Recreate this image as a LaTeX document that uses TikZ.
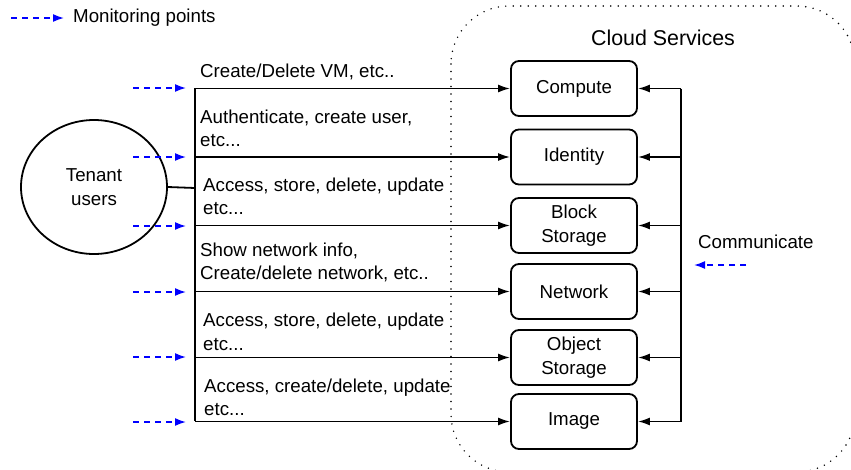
\documentclass[tikz,border=0pt]{standalone}
\usepackage{fontspec}
\setmainfont{Liberation Sans}
\usetikzlibrary{arrows.meta,shapes.geometric}
\begin{document}
\begin{tikzpicture}[x=1pt,y=-1pt,
  every node/.style={font=\fontsize{18.7}{23.5}\selectfont},
  svc/.style={draw,line width=1.8pt,rounded corners=8pt,minimum width=126pt,minimum height=55pt,align=center,inner sep=0pt},
  conn/.style={line width=1.8pt,-{Latex[length=12pt,width=8pt]}},
  mon/.style={blue,line width=1.6pt,dash pattern=on 6pt off 5pt,-{Latex[length=11pt,width=8pt]}},
  lbl/.style={anchor=west,align=left,inner sep=0pt}]
\useasboundingbox (0,0) rectangle (851,469);
\begin{scope}
\clip (0,0) rectangle (851,469);
\draw[line width=1.6pt,line cap=round,dash pattern=on 0pt off 7.5pt,rounded corners=58pt] (451,6) rectangle (855,472);
\end{scope}
% legend
\coordinate (lg1) at (11,18); \coordinate (lg2) at (64,18);
\draw[mon] (lg1) -- (lg2);
\node[anchor=west,inner sep=0pt] (lgt) at (73,18) {Monitoring points};
\node[font=\fontsize{21.4}{25}\selectfont] (cs) at (663,38) {Cloud Services};
% tenant
\node[draw,line width=1.8pt,ellipse,minimum width=146pt,minimum height=134pt,align=center,inner sep=0pt] (ten) at (94,187) {Tenant\\users};
\coordinate (bT) at (195,88); \coordinate (bB) at (195,421); \coordinate (bM) at (195,188);
\draw[line width=1.8pt] (ten.east) -- (bM);
\draw[line width=1.8pt] (bT) -- (bB);
% services
\node[svc] (comp) at (574,88.5) {Compute};
\node[svc] (ident) at (574,157) {Identity};
\node[svc] (block) at (574,225.5) {Block\\Storage};
\node[svc] (net) at (574,291.5) {Network};
\node[svc] (obj) at (574,357.5) {Object\\Storage};
\node[svc] (img) at (574,421.5) {Image};
\coordinate (rT) at (681,88.5); \coordinate (rB) at (681,421.5);
\draw[line width=1.8pt] (rT) -- (rB);
\foreach \n in {comp,ident,block,net,obj,img}{
  \draw[conn] (bT |- \n.west) -- (\n.west);
  \draw[conn] (rT |- \n.east) -- (\n.east);
}
% monitoring arrows
\foreach \n/\y in {m1/88,m2/157,m3/226,m4/292,m5/357,m6/422}{
  \coordinate (\n a) at (133,\y); \coordinate (\n b) at (186,\y);
  \draw[mon] (\n a) -- (\n b);
}
\coordinate (ca) at (746,265); \coordinate (cb) at (694,265);
\draw[mon] (ca) -- (cb);
\node[anchor=west,inner sep=0pt] (comm) at (698,242) {Communicate};
% labels
\node[lbl] (l1) at (200,72) {Create/Delete VM, etc..};
\node[lbl] (l2) at (200,128.5) {Authenticate, create user,\\etc...};
\node[lbl] (l3) at (203,196.5) {Access, store, delete, update\\etc...};
\node[lbl] (l4) at (200,262.5) {Show network info,\\Create/delete network, etc..};
\node[lbl] (l5) at (203,332) {Access, store, delete, update\\etc...};
\node[lbl] (l6) at (204,397.5) {Access, create/delete, update\\etc...};
\end{tikzpicture}
\end{document}
